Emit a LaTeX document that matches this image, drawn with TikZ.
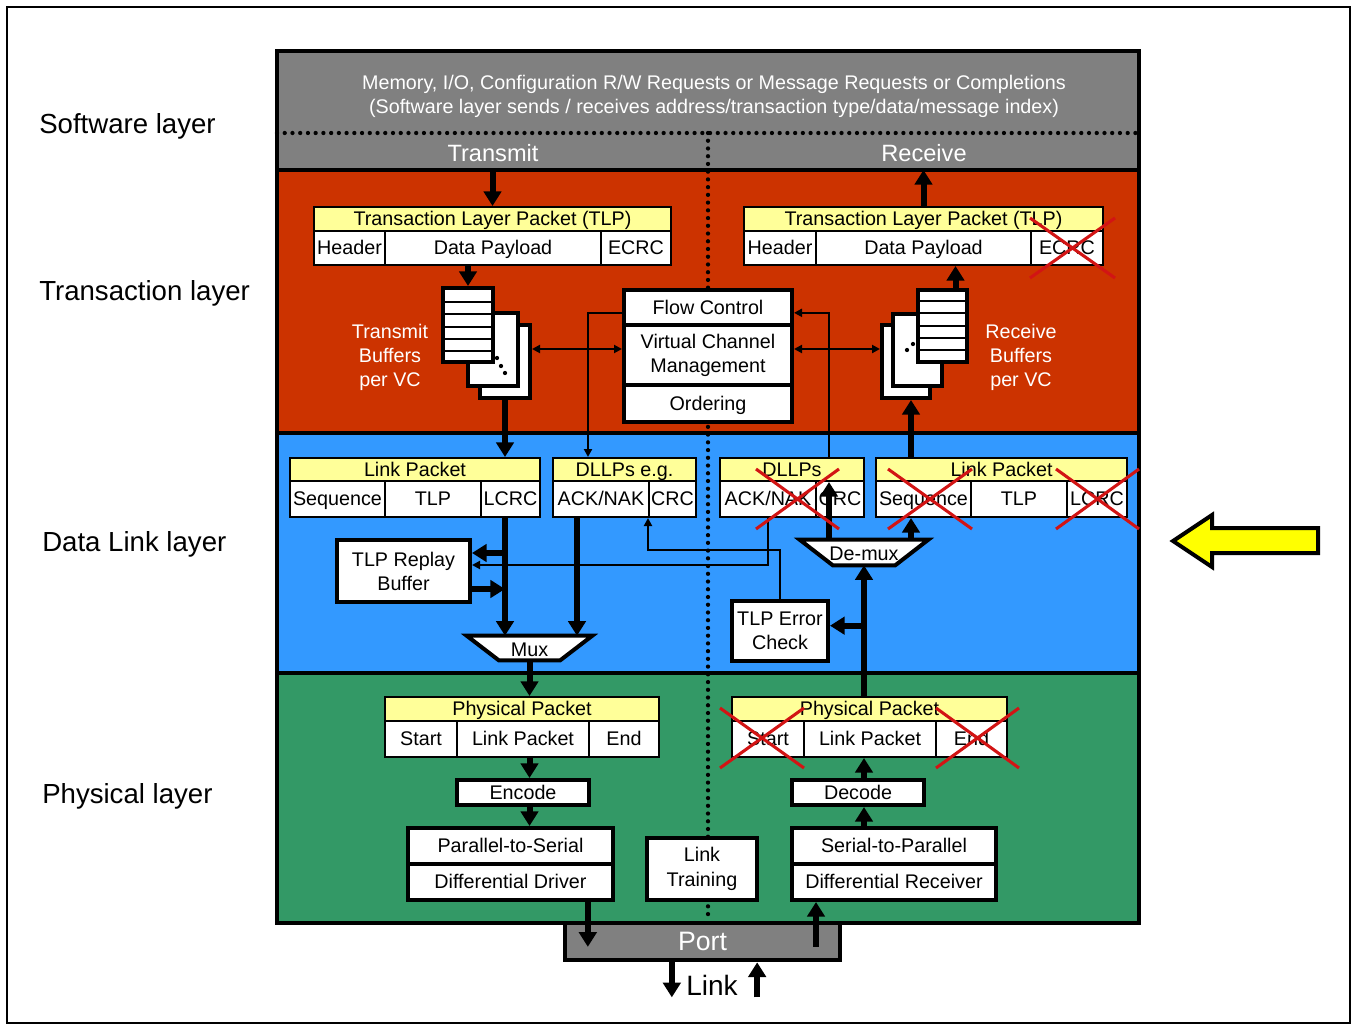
\documentclass[tikz,border=0pt]{standalone}
\usepackage{fontspec}
\setmainfont{Liberation Sans}
\usetikzlibrary{arrows.meta,fit}
\definecolor{swgray}{RGB}{128,128,128}
\definecolor{tlred}{RGB}{204,51,0}
\definecolor{dlblue}{RGB}{51,153,255}
\definecolor{phgreen}{RGB}{51,153,102}
\definecolor{hdryellow}{RGB}{255,255,153}
\definecolor{xred}{RGB}{210,20,20}
\definecolor{arrowyellow}{RGB}{255,255,0}
\begin{document}
\begin{tikzpicture}[x=0.75pt,y=-0.75pt,
  zone/.style={inner sep=0pt, outer sep=0pt},
  outline/.style={line width=3.5pt},
  dotline/.style={line width=3.2pt, line cap=round, dash pattern=on 0pt off 5.8pt},
  sz/.style 2 args={minimum width=#1*0.75pt, minimum height=#2*0.75pt},
  txt/.style={font=\fontsize{14.8}{18}\selectfont},
  onel/.style={text height=12.5pt, text depth=2.3pt},
  cell/.style={txt, onel, draw, fill=white, line width=1.5pt, inner sep=0pt},
  head/.style={cell, fill=hdryellow},
  box/.style={txt, draw, fill=white, line width=3pt, inner sep=0pt, align=center},
  buf/.style={draw, fill=white, line width=3pt, inner sep=0pt},
  muxline/.style={draw, fill=white, line width=3pt, line join=miter},
  layerlbl/.style={font=\fontsize{20.7}{24}\selectfont, anchor=base west, inner sep=0pt},
  bigarrow/.style={line width=4.5pt, -{Triangle[length=11pt,width=13pt]}},
  ctlarrow/.style={line width=1.5pt, -{Triangle[length=6pt,width=6pt]}},
  ctlboth/.style={line width=1.5pt, {Triangle[length=6pt,width=6pt]}-{Triangle[length=6pt,width=6pt]}},
  redx/.style={draw=xred, line width=2.3pt}]
\useasboundingbox (0,0) rectangle (1356,1028);
\draw[line width=1.5pt] (7,7) rectangle (1350,1023);

\node[zone, fill=swgray, fit={(277,51) (1139,170)}] (sw) {};
\node[zone, fill=tlred, fit={(277,170) (1139,433)}] (tl) {};
\node[zone, fill=dlblue, fit={(277,433) (1139,673)}] (dl) {};
\node[zone, fill=phgreen, fit={(277,673) (1139,923)}] (ph) {};
\draw[dotline] (277,133) -- (1139,133);
\draw[dotline] (708,133) -- (708,918);
\draw[outline] (sw.north west) rectangle (ph.south east);
\draw[outline] (sw.south west) -- (sw.south east);
\draw[outline] (tl.south west) -- (tl.south east);
\draw[outline] (dl.south west) -- (dl.south east);
\node[draw, fill=swgray, line width=3.5pt, inner sep=0pt, sz={275}{37},
  text=white, font=\fontsize{20}{24}\selectfont] (port) at (702.5,941.5) {Port};

\node[layerlbl] (swlbl) at (39,133) {Software layer};
\node[layerlbl] (tllbl) at (39,300) {Transaction layer};
\node[layerlbl] (dllbl) at (42,551) {Data Link layer};
\node[layerlbl] (phlbl) at (42,803) {Physical layer};

\node[txt, text=white, align=center] (swtext) at (714,96) {Memory, I/O, Configuration R/W Requests or Message Requests or Completions\\(Software layer sends / receives address/transaction type/data/message index)};
\node[text=white, font=\fontsize{17.7}{20}\selectfont] (txdir) at (493,153) {Transmit};
\node[text=white, font=\fontsize{17.7}{20}\selectfont] (rxdir) at (924,153) {Receive};

\node[head, sz={357}{24}] (txtlp) at (492.5,219) {Transaction Layer Packet (TLP)};
\node[cell, sz={71}{34}] (txhdr) at (349.5,248) {Header};
\node[cell, sz={216}{34}] (txpay) at (493,248) {Data Payload};
\node[cell, sz={70}{34}] (txecrc) at (636,248) {ECRC};
\node[head, sz={359}{24}] (rxtlp) at (923.5,219) {Transaction Layer Packet (TLP)};
\node[cell, sz={72}{34}] (rxhdr) at (780,248) {Header};
\node[cell, sz={215}{34}] (rxpay) at (923.5,248) {Data Payload};
\node[cell, sz={72}{34}] (rxecrc) at (1067,248) {ECRC};

\node[buf, fit={(480,325) (530,398)}] (txbufc) {};
\node[buf, fit={(468,313) (518,386)}] (txbufb) {};
\node[buf, fit={(443,288) (493,362)}] (txbufa) {};
\draw[line width=1.5pt] (443,302) -- (493,302);
\draw[line width=1.5pt] (443,314) -- (493,314);
\draw[line width=1.5pt] (443,327) -- (493,327);
\draw[line width=1.5pt] (443,339) -- (493,339);
\draw[line width=1.5pt] (443,351) -- (493,351);
\fill (497,358) circle (1.6pt) (501,366) circle (1.6pt) (505,373) circle (1.6pt);
\node[txt, text=white, align=center] (txbuflbl) at (390,357) {Transmit\\Buffers\\per VC};

\node[buf, fit={(882,325) (930,398)}] (rxbufc) {};
\node[buf, fit={(893,314) (942,386)}] (rxbufb) {};
\node[buf, fit={(918,290) (967,362)}] (rxbufa) {};
\draw[line width=1.5pt] (918,301) -- (967,301);
\draw[line width=1.5pt] (918,313) -- (967,313);
\draw[line width=1.5pt] (918,326) -- (967,326);
\draw[line width=1.5pt] (918,338) -- (967,338);
\draw[line width=1.5pt] (918,350) -- (967,350);
\fill (907,350) circle (1.6pt) (913,344) circle (1.6pt);
\node[txt, text=white, align=center] (rxbuflbl) at (1021,357) {Receive\\Buffers\\per VC};

\node[box, onel, sz={168}{35}] (fc) at (708,307.5) {Flow Control};
\node[box, sz={168}{60}] (vcm) at (708,355) {Virtual Channel\\Management};
\node[box, onel, sz={168}{37}] (ord) at (708,403.5) {Ordering};

\node[head, sz={250}{23}] (txlp) at (415,469.5) {Link Packet};
\node[cell, sz={95}{36}] (txseq) at (337.5,499) {Sequence};
\node[cell, sz={96}{36}] (txltlp) at (433,499) {TLP};
\node[cell, sz={59}{36}] (txlcrc) at (510.5,499) {LCRC};
\node[head, sz={143}{23}] (txdllp) at (624.5,469.5) {DLLPs e.g.};
\node[cell, sz={96}{36}] (txack) at (601,499) {ACK/NAK};
\node[cell, sz={47}{36}] (txcrc) at (672.5,499) {CRC};
\node[box, sz={133}{62}] (replay) at (403.5,571) {TLP Replay\\Buffer};
\node[inner sep=0pt, sz={125}{24}] (mux) at (529.5,648) {};
\draw[muxline] (mux.north west) -- (mux.north east) -- ([xshift=-24pt]mux.south east)
  -- ([xshift=24pt]mux.south west) -- cycle;
\node[txt] (muxlbl) at ([yshift=-1pt]mux.center) {Mux};

\node[head, sz={144}{23}] (rxdllp) at (792,469.5) {DLLPs};
\node[cell, sz={96}{36}] (rxack) at (768,499) {ACK/NAK};
\node[cell, sz={48}{36}] (rxcrc) at (840,499) {CRC};
\node[head, sz={251}{23}] (rxlp) at (1001.5,469.5) {Link Packet};
\node[cell, sz={95}{36}] (rxseq) at (923.5,499) {Sequence};
\node[cell, sz={96}{36}] (rxltlp) at (1019,499) {TLP};
\node[cell, sz={60}{36}] (rxlcrc) at (1097,499) {LCRC};
\node[inner sep=0pt, sz={128}{25}] (demux) at (864,552.5) {};
\draw[muxline] (demux.north west) -- (demux.north east) -- ([xshift=-24.75pt]demux.south east)
  -- ([xshift=24.75pt]demux.south west) -- cycle;
\node[txt] (demuxlbl) at ([yshift=-1pt]demux.center) {De-mux};
\node[box, sz={96}{60}] (errchk) at (780,631) {TLP Error\\Check};

\node[head, sz={274}{24}] (txph) at (522,709) {Physical Packet};
\node[cell, sz={72}{36}] (txstart) at (421,739) {Start};
\node[cell, sz={132}{36}] (txlink) at (523,739) {Link Packet};
\node[cell, sz={70}{36}] (txend) at (624,739) {End};
\node[box, onel, sz={132}{25}] (encode) at (523,792.5) {Encode};
\node[box, onel, sz={205}{36}] (p2s) at (510.5,846) {Parallel-to-Serial};
\node[box, onel, sz={205}{36}] (drv) at (510.5,882) {Differential Driver};
\node[box, sz={110}{62}] (lt) at (702,869) {Link\\[1pt]Training};
\node[head, sz={275}{24}] (rxph) at (869.5,709) {Physical Packet};
\node[cell, sz={72}{36}] (rxstart) at (768,739) {Start};
\node[cell, sz={132}{36}] (rxlink) at (870,739) {Link Packet};
\node[cell, sz={71}{36}] (rxend) at (971.5,739) {End};
\node[box, onel, sz={132}{25}] (decode) at (858,792.5) {Decode};
\node[box, onel, sz={204}{36}] (s2p) at (894,846) {Serial-to-Parallel};
\node[box, onel, sz={204}{36}] (rcv) at (894,882) {Differential Receiver};
\node[font=\fontsize{21}{24}\selectfont] (link) at (712,985) {Link};

\coordinate (rxup) at ([xshift=9.75pt]rxbufa.north);
\coordinate (vcmw) at ([yshift=4.5pt]vcm.west);
\coordinate (vcme) at ([yshift=4.5pt]vcm.east);
\coordinate (fcw) at ([yshift=-4pt]fc.west);
\coordinate (fce) at ([yshift=-4pt]fc.east);
\coordinate (txdown) at (txbufc.south |- txlcrc.south);
\coordinate (ackdown) at ([xshift=-18pt]txack.south);
\coordinate (rpa) at ([yshift=13.5pt]replay.east);
\coordinate (rpb) at ([yshift=-13.5pt]replay.east);
\coordinate (rpc) at ([yshift=4.5pt]replay.east);
\coordinate (crcup) at ([xshift=-27pt]rxdllp.south east);
\coordinate (sequp) at ([xshift=3.75pt]rxbufc.south);
\coordinate (errin) at ([yshift=4pt]errchk.east);
\coordinate (txout) at ([xshift=58pt]drv.south);
\coordinate (rxin) at ([xshift=-58.5pt]rcv.south);
\coordinate (pin) at ([yshift=-4pt]port.center);
\coordinate (lkout) at ([xshift=-23pt]port.south);
\coordinate (lkin) at ([xshift=41pt]port.south);

\draw[bigarrow] (txtlp.north |- sw.south) -- (txtlp.north);
\draw[bigarrow] (rxtlp.north) -- (rxtlp.north |- sw.south);
\draw[bigarrow] (txbufa.north |- txpay.south) -- (txbufa.north);
\draw[bigarrow] (rxup) -- (rxup |- rxpay.south);
\draw[ctlboth] (vcmw -| txbufc.east) -- (vcmw);
\draw[ctlboth] (vcme) -- (vcme -| rxbufc.west);
\draw[ctlarrow] (fcw) -| ([xshift=27pt]txdllp.north west);
\draw[ctlarrow] ([xshift=-27pt]rxdllp.north east) |- (fce);

\draw[bigarrow] (txbufc.south) -- (txbufc.south |- txlp.north);
\draw[bigarrow] (txdown) -- (txdown |- mux.north);
\draw[bigarrow] (rpa -| txdown) -- (rpa);
\draw[bigarrow] (rpb) -- (rpb -| txdown);
\draw[bigarrow] (ackdown) -- (ackdown |- mux.north);
\draw[bigarrow] (mux.south) -- (mux.south |- txph.north);
\draw[ctlarrow] (rxack.south) |- (rpc);
\draw[ctlarrow] (errchk.north) -- ++(0,-49) -| (txcrc.south west);

\draw[bigarrow] (sequp |- rxlp.north) -- (sequp);
\draw[bigarrow] (crcup |- demux.north) -- (crcup);
\draw[bigarrow] (sequp |- demux.north) -- (sequp |- rxseq.south);
\draw[bigarrow] (demux.south |- rxph.north) -- (demux.south);
\draw[bigarrow] (errin -| demux.south) -- (errin);

\draw[bigarrow] (mux.south |- txlink.south) -- (mux.south |- encode.north);
\draw[bigarrow] (mux.south |- encode.south) -- (mux.south |- p2s.north);
\draw[bigarrow] (txout) -- (txout |- pin);
\draw[bigarrow] (demux.south |- s2p.north) -- (demux.south |- decode.south);
\draw[bigarrow] (demux.south |- decode.north) -- (demux.south |- rxlink.south);
\draw[bigarrow] (rxin |- pin) -- (rxin);
\draw[bigarrow] (lkout) -- ++(0,35);
\draw[bigarrow] (lkin) ++(0,35) -- (lkin);

\draw[redx] (1030,218) -- (1115,278) (1030,278) -- (1115,218);
\draw[redx] (756,469) -- (839,529) (756,529) -- (839,469);
\draw[redx] (888,469) -- (972,529) (888,529) -- (972,469);
\draw[redx] (1056,469) -- (1139,529) (1056,529) -- (1139,469);
\draw[redx] (720,708) -- (804,768) (720,768) -- (804,708);
\draw[redx] (936,708) -- (1019,768) (936,768) -- (1019,708);

\draw[line width=3pt, fill=arrowyellow] (1173,541) -- (1212,515) -- (1212,528) -- (1318,528)
  -- (1318,553) -- (1212,553) -- (1212,567) -- cycle;
\end{tikzpicture}
\end{document}
